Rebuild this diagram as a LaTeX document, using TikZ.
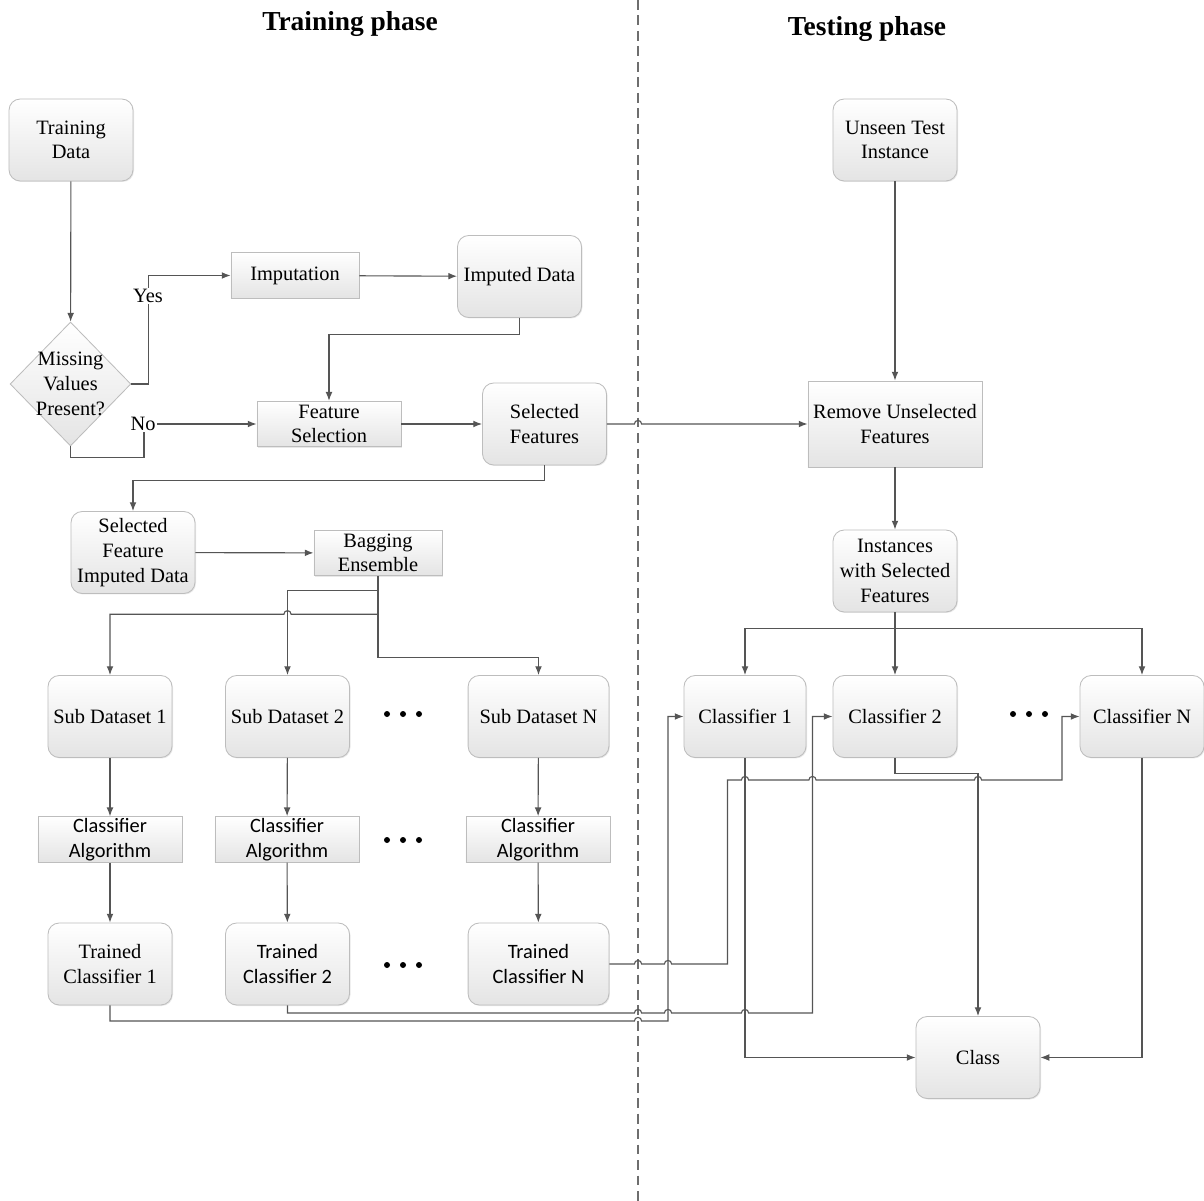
\documentclass[tikz,border=0pt]{standalone}
\usepackage{fontspec}
\setmainfont{Liberation Serif}
\newfontfamily\calfont{Carlito}
\usetikzlibrary{arrows.meta, calc, positioning, shapes.geometric, shadows}
\definecolor{clineg}{HTML}{555555}
\definecolor{cedge}{HTML}{BDBDBD}
\definecolor{cfillb}{HTML}{E4E4E4}
\definecolor{cdash}{HTML}{6E6E6E}

% line hops over a crossing vertical line
\newcommand{\hopright}[1]{-- ([xshift=-0.09cm]#1) arc[start angle=180, end angle=0, radius=0.09cm]}
\newcommand{\hopleft}[1]{-- ([xshift=0.09cm]#1) arc[start angle=0, end angle=180, radius=0.09cm]}

\begin{document}
\begin{tikzpicture}[
  x=0.025cm, y=-0.025cm,
  font=\fontsize{14.5}{17.5}\selectfont,
  roundbox/.style={
    rectangle, rounded corners=8pt, draw=cedge, line width=0.6pt,
    top color=white, bottom color=cfillb,
    drop shadow={shadow xshift=0.7pt, shadow yshift=-0.7pt, opacity=0.18},
    minimum width=3.1cm, minimum height=2.05cm, inner sep=2pt, align=center
  },
  flatbox/.style={
    rectangle, draw=cedge, line width=0.6pt,
    top color=white, bottom color=cfillb,
    drop shadow={shadow xshift=0.7pt, shadow yshift=-0.7pt, opacity=0.18},
    minimum width=3.2cm, minimum height=1.14cm,
    inner xsep=2pt, inner ysep=0pt, align=center
  },
  decision/.style={
    diamond, draw=cedge, line width=0.6pt,
    top color=white, bottom color=cfillb,
    minimum width=3.02cm, minimum height=3.1cm, inner sep=0pt
  },
  calibtxt/.style={font=\calfont\fontsize{14.5}{17.5}\selectfont},
  flowarrow/.style={
    -{Latex[length=2.2mm, width=1.7mm]}, draw=clineg, line width=0.8pt
  },
  divider/.style={draw=cdash, line width=0.8pt, dash pattern=on 7pt off 4pt},
  phasetitle/.style={font=\fontsize{19.5}{23}\selectfont\bfseries}
]
\useasboundingbox (0,0) rectangle (1204,1201);

% ============================================================
% Phase titles and divider
% ============================================================
\node[phasetitle] (ttrain) at (350,24) {Training phase};
\node[phasetitle] (ttest) at (867,29) {Testing phase};

\coordinate (dl) at (638,0);
\coordinate (dlb) at (638,1201);
\draw[divider] (dl) -- (dlb);

% ============================================================
% Training phase: preprocessing
% ============================================================
\node[roundbox] (td) at (71,140) {Training\\Data};
\node[decision] (dm) at (70.5,384) {};
\node[align=center] (dmtxt) at (dm.center) {Missing\\Values\\Present?};
\node[flatbox] (imp) at (295,275.5) {Imputation};
\node[roundbox] (impd) at (519.5,276.5) {Imputed Data};
\node[flatbox, minimum width=3.6cm] (fs) at (329,424) {Feature\\Selection};
\node[roundbox] (sf) at (544.5,424) {Selected\\Features};
\node[roundbox] (sfid) at (133,552.5) {Selected\\Feature\\Imputed Data};
\node[flatbox] (bag) at (378,553) {Bagging\\Ensemble};

\draw[flowarrow] (td) -- (dm);
\draw[flowarrow] (dm.east) -- ++(17.5,0) |- (imp.west);
\draw[flowarrow] (dm.south) -- ++(0,11) -- ++(73.5,0) |- (fs.west);
\node[fill=white, inner sep=1pt] (yes) at (148,296) {Yes};
\node[fill=white, inner sep=1pt] (no) at (143,424) {No};
\draw[flowarrow] (imp) -- (impd);
\draw[flowarrow] (impd.south) -- ++(0,17) -| (fs.north);
\draw[flowarrow] (fs) -- (sf);
\draw[flowarrow] (sf.south) -- ++(0,15) -| (sfid.north);
\draw[flowarrow] (sfid) -- (bag);

% ============================================================
% Training phase: bagging ensemble
% ============================================================
\node[roundbox] (sub1) at (110,716.5) {Sub Dataset 1};
\node[roundbox] (sub2) at (287.5,716.5) {Sub Dataset 2};
\node[roundbox, minimum width=3.52cm] (subn) at (538.5,716.5) {Sub Dataset N};

\node[flatbox, minimum width=3.6cm, calibtxt] (ca1) at (110,839.5) {Classifier\\Algorithm};
\node[flatbox, minimum width=3.6cm, calibtxt] (ca2) at (287,839.5) {Classifier\\Algorithm};
\node[flatbox, minimum width=3.6cm, calibtxt] (can) at (538,839.5) {Classifier\\Algorithm};

\node[roundbox] (tc1) at (110,964) {Trained\\Classifier 1};
\node[roundbox, calibtxt] (tc2) at (287.5,964) {Trained\\Classifier 2};
\node[roundbox, minimum width=3.52cm, calibtxt] (tcn) at (538.5,964) {Trained\\Classifier N};

\draw[flowarrow] (bag.south) -- ++(0,14) -| (sub2.north);
\draw[flowarrow] (bag.south) -- ++(0,38) coordinate (bsplit)
  \hopleft{sub2.north |- bsplit} -| (sub1.north);
\draw[flowarrow] (bag.south) -- ++(0,81) -| (subn.north);

\foreach \n in {1,2,n} {
  \draw[flowarrow] (sub\n) -- (ca\n);
  \draw[flowarrow] (ca\n) -- (tc\n);
}

% dots between the columns
\foreach \xc/\yc in {403/714, 403/840, 403/965, 1029/714} {
  \foreach \d in {-16,0,16}
    \fill (\xc+\d,\yc) circle (0.075cm);
}

% ============================================================
% Testing phase
% ============================================================
\node[roundbox] (uti) at (895,140) {Unseen Test\\Instance};
\node[flatbox, minimum width=4.35cm, minimum height=2.15cm] (rus) at (895,424) {Remove Unselected\\Features};
\node[roundbox] (ins) at (895,571) {Instances\\with Selected\\Features};
\node[roundbox, minimum width=3.05cm] (c1) at (745,716.5) {Classifier 1};
\node[roundbox] (c2) at (895,716.5) {Classifier 2};
\node[roundbox] (cn) at (1142,716.5) {Classifier N};
\node[roundbox] (cls) at (978,1057.5) {Class};

\draw[flowarrow] (uti) -- (rus);
\draw[flowarrow] (sf.east) \hopright{dl |- sf.east} -- (rus.west);
\draw[flowarrow] (rus) -- (ins);
\draw[flowarrow] (ins.south) -- ++(0,16) -| (c1.north);
\draw[flowarrow] (ins) -- (c2);
\draw[flowarrow] (ins.south) -- ++(0,16) -| (cn.north);

% ============================================================
% Trained classifiers feed the testing classifiers
% ============================================================
\coordinate (v1) at (668,0);
\coordinate (vn) at (727.5,0);
\coordinate (v2) at (812.5,0);
\coordinate (wn) at (1062,0);
\coordinate (h1) at (0,1021);
\coordinate (h2) at (0,1013);
\coordinate (hn) at (0,780);

\draw[flowarrow] (tc1.south) -- (tc1.south |- h1)
  \hopright{dl |- h1} -- (v1 |- h1) |- (c1.west);
\draw[flowarrow] (tc2.south) -- (tc2.south |- h2)
  \hopright{dl |- h2} \hopright{v1 |- h2} \hopright{c1 |- h2}
  -- (v2 |- h2) |- (c2.west);
\draw[flowarrow] (tcn.east)
  \hopright{dl |- tcn.east} \hopright{v1 |- tcn.east}
  -- (vn |- tcn.east) -- (vn |- hn)
  \hopright{c1 |- hn} \hopright{v2 |- hn} \hopright{cls |- hn}
  -- (wn |- hn) |- (cn.west);

% ============================================================
% Voting into the class
% ============================================================
\draw[flowarrow] (c1.south) |- (cls.west);
\draw[flowarrow] (c2.south) -- ++(0,15.5) -| (cls.north);
\draw[flowarrow] (cn.south) |- (cls.east);

\end{tikzpicture}
\end{document}
